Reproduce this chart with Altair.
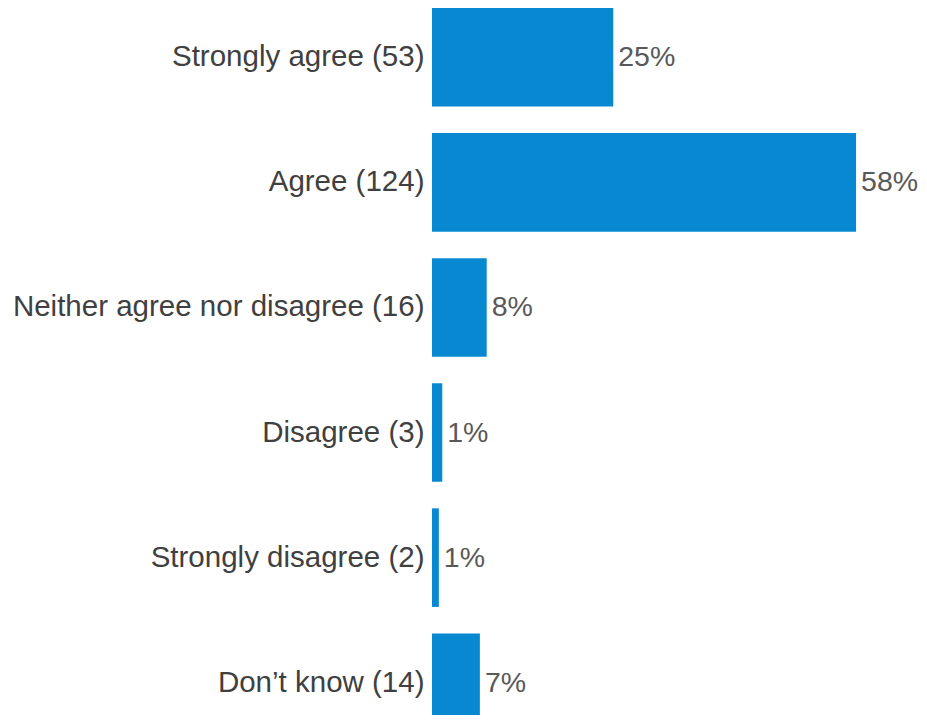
import altair as alt
import pandas as pd

categories = ["Strongly agree", "Agree", "Neither agree nor disagree",
              "Disagree", "Strongly disagree", "Don\u2019t know"]
counts = [53, 124, 16, 3, 2, 14]
pct_labels = ["25%", "58%", "8%", "1%", "1%", "7%"]

total = sum(counts)
df = pd.DataFrame({
    "label": [f"{c} ({n})" for c, n in zip(categories, counts)],
    "share": [n / total * 100 for n in counts],
    "pct": pct_labels,
})
order = list(df["label"])

FONT = "Liberation Sans"
y = alt.Y("label:N", sort=order, title=None,
          scale=alt.Scale(paddingInner=0.212, paddingOuter=0, range=[0, 724]),
          axis=alt.Axis(domain=False, ticks=False, grid=False, labelPadding=8,
                        labelFont=FONT, labelFontSize=29.5, labelColor="#404040",
                        labelLimit=600))
x = alt.X("share:Q", title=None, axis=None,
          scale=alt.Scale(domain=[0, 487 / 7.25], nice=False, zero=True))

bars = alt.Chart(df).mark_bar(color="#0788D1").encode(x=x, y=y)
text = alt.Chart(df).mark_text(align="left", baseline="middle", dx=5,
                               font=FONT, fontSize=28.5, color="#595959").encode(
    x=x, y=y, text="pct:N")

chart = (bars + text).properties(
    width=487, height=707,
    background="white",
    autosize=alt.AutoSizeParams(type="none"),
    padding={"left": 424, "top": 0, "right": 0, "bottom": 0},
).configure_view(strokeWidth=0, stroke=None)

chart.save("out.html", embed_options={"renderer": "svg", "actions": False})
